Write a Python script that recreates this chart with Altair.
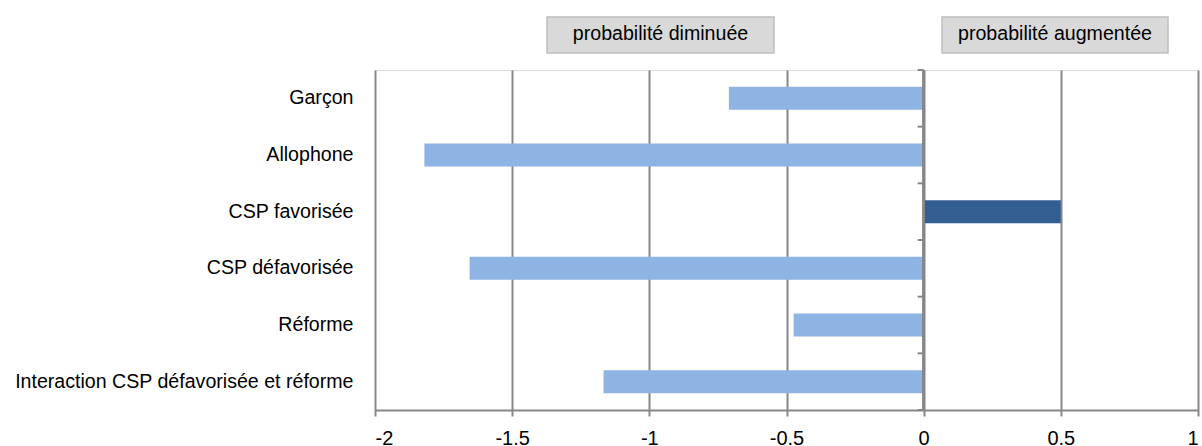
import altair as alt
import pandas as pd

categories = ["Garçon", "Allophone", "CSP favorisée", "CSP défavorisée",
              "Réforme", "Interaction CSP défavorisée et réforme"]
values = [-0.71, -1.82, 0.50, -1.655, -0.474, -1.167]
bar_colors = ["#8EB4E3", "#8EB4E3", "#335E91", "#8EB4E3", "#8EB4E3", "#8EB4E3"]
x_ticks = [-2, -1.5, -1, -0.5, 0, 0.5, 1]
box_labels = ["probabilité diminuée", "probabilité augmentée"]

FONT = "Liberation Sans"
GRID = "#878787"
FS = 19.6

df = pd.DataFrame({"cat": categories, "val": values, "col": bar_colors})
last = pd.DataFrame({"cat": [categories[-1]]})

xscale = alt.Scale(domain=[-2, 1], nice=False, zero=False)
yscale = alt.Scale(domain=categories, paddingInner=0, paddingOuter=0)

bars = alt.Chart(df).mark_bar(size=23).encode(
    x=alt.X("val:Q", scale=xscale,
            axis=alt.Axis(values=x_ticks, title=None, grid=True, gridColor=GRID,
                          gridWidth=2, domainColor=GRID, domainWidth=2,
                          tickColor=GRID, tickWidth=2, tickSize=6,
                          labelPadding=12, labelFontSize=20, labelFont=FONT,
                          labelColor="#000000", labelExpr="datum.value + ''")),
    x2=alt.datum(0),
    y=alt.Y("cat:N", scale=yscale, sort=categories,
            axis=alt.Axis(title=None, domain=False, ticks=False, grid=False,
                          labelPadding=22, labelFontSize=FS, labelFont=FONT,
                          labelColor="#000000", labelLimit=400)),
    color=alt.Color("col:N", scale=None, legend=None),
)

zero_line = alt.Chart(df).mark_rule(color=GRID, strokeWidth=2).encode(
    x=alt.datum(0)
)

ticks_top = alt.Chart(df).mark_rule(color=GRID, strokeWidth=2, x2Offset=-6).encode(
    x=alt.datum(0), x2=alt.datum(0),
    y=alt.Y("cat:N", bandPosition=0, scale=yscale, sort=categories),
)
ticks_bottom = alt.Chart(last).mark_rule(color=GRID, strokeWidth=2, x2Offset=-6).encode(
    x=alt.datum(0), x2=alt.datum(0),
    y=alt.Y("cat:N", bandPosition=1, scale=yscale, sort=categories),
)

box_df = pd.DataFrame({"label": box_labels})
box1 = alt.Chart(box_df.iloc[[0]]).mark_rect(
    fill="#D9D9D9", stroke="#BFBFBF", strokeWidth=1.5).encode(
    x=alt.value(172), x2=alt.value(399), y=alt.value(-53), y2=alt.value(-17))
box2 = alt.Chart(box_df.iloc[[1]]).mark_rect(
    fill="#D9D9D9", stroke="#BFBFBF", strokeWidth=1.5).encode(
    x=alt.value(567), x2=alt.value(793), y=alt.value(-53), y2=alt.value(-17))
txt1 = alt.Chart(box_df.iloc[[0]]).mark_text(
    font=FONT, fontSize=FS, color="#000000", align="center", baseline="middle").encode(
    text="label:N", x=alt.value(285.5), y=alt.value(-36))
txt2 = alt.Chart(box_df.iloc[[1]]).mark_text(
    font=FONT, fontSize=FS, color="#000000", align="center", baseline="middle").encode(
    text="label:N", x=alt.value(680), y=alt.value(-36))

chart = alt.layer(bars, zero_line, ticks_top, ticks_bottom, box1, box2, txt1, txt2).properties(
    width=823, height=340,
    autosize=alt.AutoSizeParams(type="none"),
    padding={"left": 375, "top": 70, "right": 4, "bottom": 36},
).configure_view(stroke=None).configure(background="white")

chart.save("out.html", embed_options={"renderer": "svg", "actions": False})
